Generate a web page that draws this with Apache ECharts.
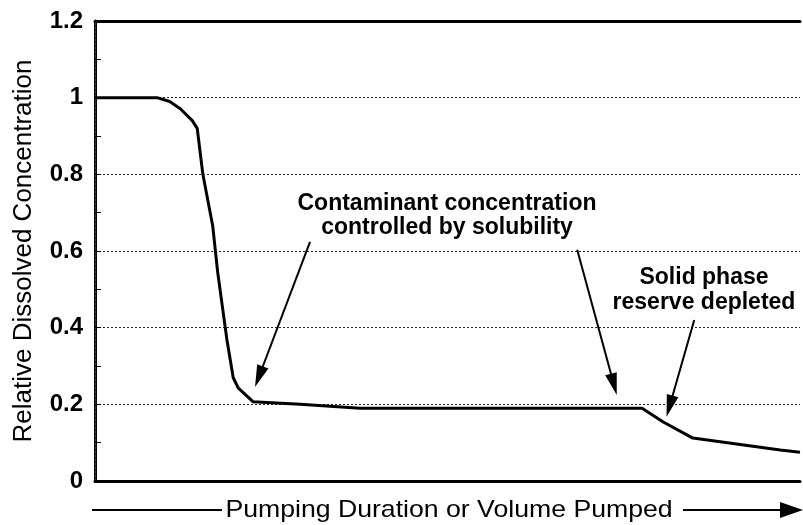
<!DOCTYPE html>
<html>
<head>
<meta charset="utf-8">
<script src="https://cdn.jsdelivr.net/npm/echarts@6/dist/echarts.min.js"></script>
<style>
  html, body { margin: 0; padding: 0; background: #fff; }
  #chart { width: 803px; height: 525px; }
</style>
</head>
<body>
<div id="chart"></div>
<script>
// pumping progress (0-100, arbitrary units) vs relative concentration
const pumped = [0, 8.8, 10.6, 12.1, 13.8, 14.5, 15.3, 16.7, 17.4, 18.7, 19.6, 20.3, 22.4, 29.1, 37.6, 77.6, 80.6, 84.8, 97.2, 100];
const concentration = [1.0, 1.0, 0.99, 0.971, 0.94, 0.92, 0.80, 0.665, 0.545, 0.37, 0.27, 0.243, 0.207, 0.2, 0.19, 0.19, 0.154, 0.112, 0.081, 0.075];
const yTicks = ['0', '0.2', '0.4', '0.6', '0.8', '1', '1.2'];

// annotation arrows, [from, to] in data coords (to = centre of the arrow head)
const arrows = [
  [[30.5, 0.624], [23.25, 0.272]],
  [[68.4, 0.603], [73.6, 0.252]],
  [[85.0, 0.42], [81.5, 0.195]]
];

const chart = echarts.init(document.getElementById('chart'));
const font = '"Liberation Sans", Arial, sans-serif';

function label(text, x, y, size, bold, extra) {
  return Object.assign({
    type: 'text', x: x, y: y,
    style: {
      text: text, font: (bold ? 'bold ' : '') + size + 'px ' + font,
      fill: '#000', textAlign: 'center', textVerticalAlign: 'middle'
    }
  }, extra || {});
}

const option = {
  animation: false,
  grid: { left: 95, right: 3, top: 21, bottom: 44 },
  xAxis: [{
    type: 'value', min: 0, max: 100,
    axisLine: { show: true, onZero: false, lineStyle: { color: '#000', width: 3 } },
    axisTick: { show: false }, axisLabel: { show: false }, splitLine: { show: false }
  }, {
    type: 'value', position: 'top', min: 0, max: 100,
    axisLine: { show: true, onZero: false, lineStyle: { color: '#000', width: 3 } },
    axisTick: { show: false }, axisLabel: { show: false }, splitLine: { show: false }
  }],
  yAxis: [{
    type: 'value', min: 0, max: 1.2, interval: 0.2,
    name: 'Relative Dissolved Concentration',
    nameLocation: 'middle', nameGap: 58,
    nameTextStyle: { fontFamily: font, fontSize: 26, color: '#000' },
    axisLine: { show: true, lineStyle: { color: '#000', width: 3 } },
    axisTick: { show: true, inside: true, length: 6, lineStyle: { color: '#000', width: 1 } },
    minorTick: { show: true, splitNumber: 2, length: 6, lineStyle: { color: '#000', width: 1 } },
    axisLabel: {
      fontFamily: font, fontSize: 24, fontWeight: 'bold', color: '#000', margin: 12,
      formatter: v => yTicks[Math.round(v / 0.2)]
    },
    splitLine: { show: true, lineStyle: { color: '#222', type: [2, 2], width: 1 } }
  }, {
    type: 'value', position: 'right', min: 0, max: 1.2,
    axisLine: { show: true, lineStyle: { color: '#444', type: [2, 2], width: 1 } },
    axisTick: { show: false }, axisLabel: { show: false }, splitLine: { show: false }
  }],
  series: [{
    type: 'line',
    data: pumped.map((x, i) => [x, concentration[i]]),
    showSymbol: false,
    lineStyle: { color: '#000', width: 3 },
    markLine: {
      silent: true,
      symbol: ['none', 'triangle'],
      symbolSize: [12, 22],
      label: { show: false },
      lineStyle: { color: '#000', width: 2, type: 'solid' },
      data: arrows.map(a => [{ coord: a[0] }, { coord: a[1] }])
    }
  }],
  graphic: [
    label('Contaminant concentration', 447, 204, 23, true),
    label('controlled by solubility', 447, 228, 23, true),
    label('Solid phase', 704, 278, 23, true),
    label('reserve depleted', 704, 303, 23, true),
    label('Pumping Duration or Volume Pumped', 449, 510, 24, false, { scaleX: 1.11, originX: 0 }),
    { type: 'line', shape: { x1: 92, y1: 510, x2: 222, y2: 510 }, style: { stroke: '#000', lineWidth: 2 } },
    { type: 'line', shape: { x1: 683, y1: 510, x2: 785, y2: 510 }, style: { stroke: '#000', lineWidth: 2 } },
    { type: 'polygon', shape: { points: [[780, 502], [803, 510], [780, 518]] }, style: { fill: '#000' } }
  ]
};

chart.setOption(option);
</script>
</body>
</html>
